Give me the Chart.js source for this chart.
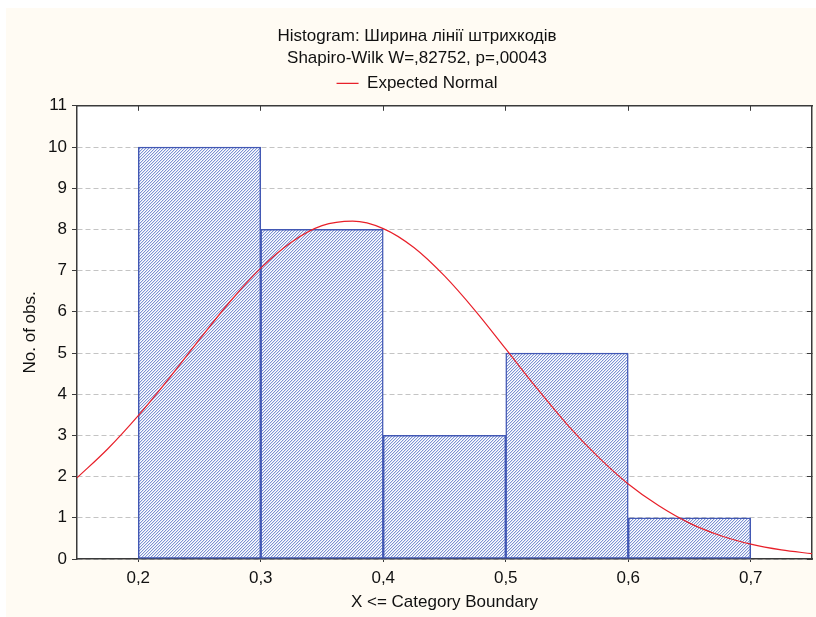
<!DOCTYPE html>
<html>
<head>
<meta charset="utf-8">
<script src="https://cdn.jsdelivr.net/npm/chart.js@4/dist/chart.umd.min.js"></script>
<style>
  html, body { margin: 0; padding: 0; background: #ffffff; }
  canvas { display: block; }
</style>
</head>
<body>
<canvas id="hist" width="816" height="617"></canvas>
<script>
// histogram bins (bin centre, 0.1 wide) and counts
var binCentres = [0.25, 0.35, 0.45, 0.55, 0.65];
var binCounts = [10, 8, 3, 5, 1];

// expected normal curve
var curveX = [0.15, 0.175, 0.2, 0.225, 0.25, 0.275, 0.3, 0.325, 0.35, 0.375, 0.4, 0.425, 0.45,
              0.475, 0.5, 0.525, 0.55, 0.575, 0.6, 0.625, 0.65, 0.675, 0.7, 0.725, 0.75];
var curveY = [1.97, 2.67, 3.48, 4.38, 5.33, 6.25, 7.06, 7.69, 8.09, 8.2, 8.02, 7.56, 6.87,
              6.03, 5.1, 4.16, 3.27, 2.49, 1.82, 1.29, 0.87, 0.57, 0.36, 0.22, 0.13];

var xTicks = [0.2, 0.3, 0.4, 0.5, 0.6, 0.7];
var xRange = [0.15, 0.75];
var yRange = [0, 11];

var titleText = 'Histogram: Ширина лінії штрихкодів';
var subtitleText = 'Shapiro-Wilk W=,82752, p=,00043';
var legendText = 'Expected Normal';
var xTitle = 'X <= Category Boundary';
var yTitle = 'No. of obs.';

(function () {
  var FONT = "'Liberation Sans', Arial, sans-serif";
  var AXIS = '#3a3a3a';

  function hatch() {
    var c = document.createElement('canvas');
    c.width = 3; c.height = 3;
    var g = c.getContext('2d');
    g.fillStyle = '#ffffff';
    g.fillRect(0, 0, 3, 3);
    for (var i = 0; i < 3; i++) {
      g.fillStyle = '#7d92d2';
      g.fillRect(i, 2 - i, 1, 1);
      g.fillStyle = '#d8e0f4';
      g.fillRect(i, (3 - i) % 3, 1, 1);
    }
    return g.createPattern(c, 'repeat');
  }

  function setTicks(axis) {
    axis.ticks = xTicks.map(function (v) { return { value: v }; });
  }

  function comma(v) {
    return String(Math.round(v * 10) / 10).replace('.', ',');
  }

  var paper = {
    id: 'paper',
    beforeDraw: function (chart) {
      var ctx = chart.ctx, a = chart.chartArea;
      ctx.save();
      ctx.fillStyle = '#ffffff';
      ctx.fillRect(0, 0, chart.width, chart.height);
      ctx.fillStyle = '#fffbf3';
      ctx.fillRect(6, 8, chart.width - 6, chart.height - 8);
      ctx.fillStyle = '#ffffff';
      ctx.fillRect(a.left, a.top, a.right - a.left, a.bottom - a.top);
      ctx.restore();
    }
  };

  var bars = binCentres.map(function (x, i) { return { x: x, y: binCounts[i] }; });
  var curve = curveX.map(function (x, i) { return { x: x, y: curveY[i] }; });

  new Chart(document.getElementById('hist'), {
    type: 'bar',
    data: {
      datasets: [{
        type: 'bar',
        label: 'Histogram',
        data: bars,
        order: 1,
        backgroundColor: hatch(),
        borderColor: '#4258b4',
        borderWidth: 1.5,
        borderSkipped: false,
        barPercentage: 1,
        categoryPercentage: 1
      }, {
        type: 'line',
        label: legendText,
        data: curve,
        order: 0,
        borderColor: '#e8202a',
        backgroundColor: '#e8202a',
        borderWidth: 1.2,
        pointRadius: 0,
        cubicInterpolationMode: 'monotone',
        fill: false
      }]
    },
    options: {
      responsive: false,
      animation: false,
      layout: { padding: { left: 18, right: 0, top: 8, bottom: 0 } },
      plugins: {
        title: {
          display: true,
          text: titleText,
          color: '#111',
          font: { family: FONT, size: 17, weight: 'normal', lineHeight: 1.2 },
          padding: { top: 18, bottom: 2 }
        },
        subtitle: {
          display: true,
          text: subtitleText,
          color: '#111',
          font: { family: FONT, size: 17, weight: 'normal', lineHeight: 1.2 },
          padding: { top: 0, bottom: 1 }
        },
        legend: {
          display: true,
          position: 'top',
          labels: {
            color: '#111',
            font: { family: FONT, size: 17 },
            usePointStyle: true,
            pointStyle: 'line',
            pointStyleWidth: 22,
            padding: 5,
            filter: function (item) { return item.text === legendText; }
          }
        },
        tooltip: { enabled: false }
      },
      scales: {
        x: {
          type: 'linear',
          position: 'bottom',
          offset: false,
          min: xRange[0],
          max: xRange[1],
          afterBuildTicks: setTicks,
          afterFit: function (s) { s.height = 58; },
          grid: { offset: false, drawOnChartArea: false, tickLength: 3, tickColor: AXIS, tickWidth: 1 },
          border: { display: true, color: AXIS, width: 1.5 },
          ticks: {
            color: '#111',
            font: { family: FONT, size: 17 },
            padding: 6,
            maxRotation: 0,
            autoSkip: false,
            callback: function (v) { return comma(v); }
          },
          title: {
            display: true,
            text: xTitle,
            color: '#111',
            font: { family: FONT, size: 17, lineHeight: 1.2 },
            padding: { top: 0, bottom: 4 }
          }
        },
        x2: {
          type: 'linear',
          position: 'top',
          offset: false,
          min: xRange[0],
          max: xRange[1],
          afterBuildTicks: setTicks,
          afterFit: function (s) { s.height = 4; },
          grid: { offset: false, drawOnChartArea: false, tickLength: -5, tickColor: AXIS, tickWidth: 1 },
          border: { display: true, color: AXIS, width: 1.5 },
          ticks: { display: false }
        },
        y: {
          type: 'linear',
          position: 'left',
          min: yRange[0],
          max: yRange[1],
          afterFit: function (s) { s.width = 59; },
          grid: { color: '#c4c4c4', lineWidth: 1, tickLength: 5, tickColor: AXIS, tickWidth: 1 },
          border: { display: true, color: AXIS, width: 1.5, dash: [5, 3] },
          ticks: {
            stepSize: 1,
            color: '#111',
            font: { family: FONT, size: 17 },
            padding: 5
          },
          title: {
            display: true,
            text: yTitle,
            color: '#111',
            font: { family: FONT, size: 17, lineHeight: 1.2 },
            padding: { top: 2, bottom: 0 }
          }
        },
        y2: {
          type: 'linear',
          position: 'right',
          min: yRange[0],
          max: yRange[1],
          afterFit: function (s) { s.width = 4; },
          grid: { drawOnChartArea: false, tickLength: -5, tickColor: AXIS, tickWidth: 1 },
          border: { display: true, color: AXIS, width: 1.5 },
          ticks: { display: false, stepSize: 1 }
        }
      }
    },
    plugins: [paper]
  });
})();
</script>
</body>
</html>
